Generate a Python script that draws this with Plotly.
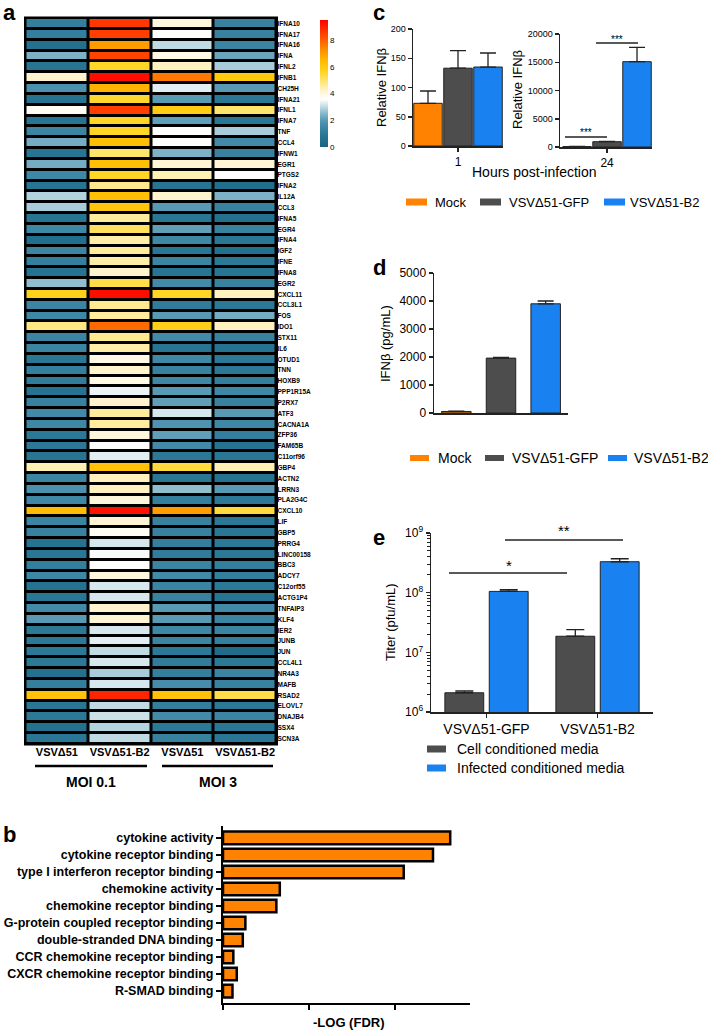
import plotly.graph_objects as go

W, H = 708, 1030


def fx(p):
    return p / W


def fy(p):
    return 1 - p / H


FONT = "Liberation Sans, Arial, sans-serif"
AX = "#222222"

# ---------------- panel a: heatmap data ----------------
genes = ["IFNA10", "IFNA17", "IFNA16", "IFNA", "IFNL2", "IFNB1", "CH25H", "IFNA21", "IFNL1", "IFNA7",
         "TNF", "CCL4", "IFNW1", "EGR1", "PTGS2", "IFNA2", "IL12A", "CCL3", "IFNA5", "EGR4",
         "IFNA4", "IGF2", "IFNE", "IFNA8", "EGR2", "CXCL11", "CCL3L1", "FOS", "IDO1", "STX11",
         "IL6", "OTUD1", "TNN", "HOXB9", "PPP1R15A", "P2RX7", "ATF3", "CACNA1A", "ZFP36", "FAM65B",
         "C11orf96", "GBP4", "ACTN2", "LRRN3", "PLA2G4C", "CXCL10", "LIF", "GBP5", "PRRG4", "LINC00158",
         "BBC3", "ADCY7", "C12orf55", "ACTG1P4", "TNFAIP3", "KLF4", "IER2", "JUNB", "JUN", "CCL4L1",
         "NR4A3", "MAFB", "RSAD2", "ELOVL7", "DNAJB4", "SSX4", "SCN3A"]
vsv_moi01 = [1.2, 1.2, 0.6, 2.4, 0.8, 4.2, 1.8, 0.7, 3.7, 0.8,
             1.4, 2.3, 0.8, 2.3, 1.5, 0.8, 2.9, 2.8, 0.8, 1.5,
             0.5, 1.4, 1.2, 0.7, 2.6, 5.7, 1.4, 1.5, 4.8, 1.4,
             1.4, 0.9, 1.2, 1.1, 0.7, 1.3, 1.6, 1.5, 1.0, 1.0,
             0.8, 4.4, 1.4, 1.8, 1.5, 6.4, 1.4, 1.3, 0.7, 0.9,
             1.2, 1.5, 0.7, 0.9, 1.6, 2.0, 1.0, 1.0, 1.0, 1.0,
             0.6, 1.2, 6.2, 0.9, 1.0, 0.6, 0.9]
b2_moi01 = [8.6, 8.5, 7.0, 8.4, 5.6, 9.3, 6.6, 5.5, 8.5, 5.6,
            5.6, 6.3, 5.0, 6.3, 5.6, 4.7, 6.3, 6.1, 4.6, 5.1,
            4.5, 4.6, 4.5, 4.2, 5.3, 9.3, 4.7, 4.6, 7.8, 4.7,
            4.5, 3.9, 4.2, 3.9, 3.4, 4.2, 4.6, 4.6, 4.0, 3.6,
            3.3, 6.2, 4.3, 4.3, 4.0, 9.2, 4.1, 3.7, 3.2, 3.5,
            3.6, 4.0, 3.2, 3.2, 4.2, 4.1, 3.2, 3.3, 3.0, 3.2,
            2.8, 3.2, 8.9, 3.0, 3.1, 2.9, 3.0]
vsv_moi3 = [4.0, 3.6, 3.0, 3.9, 4.3, 7.6, 3.3, 2.0, 5.9, 2.1,
            3.6, 3.6, 2.4, 4.1, 4.4, 0.8, 4.2, 2.0, 0.9, 2.1,
            1.5, 0.9, 1.4, 0.8, 1.6, 5.6, 1.1, 2.0, 5.8, 1.6,
            0.8, 1.5, 1.3, 1.5, 2.0, 2.1, 3.2, 1.9, 2.1, 1.6,
            1.0, 5.4, 0.9, 2.6, 1.2, 7.0, 1.3, 1.3, 1.2, 1.1,
            1.4, 1.6, 1.4, 1.3, 2.0, 2.0, 1.5, 1.4, 1.0, 1.1,
            1.2, 1.7, 6.2, 1.2, 1.6, 1.0, 1.3]
b2_moi3 = [1.3, 1.3, 1.4, 2.2, 2.8, 6.0, 2.0, 0.9, 5.0, 0.9,
           2.8, 1.6, 1.3, 4.1, 3.6, 0.5, 2.4, 1.3, 0.6, 1.3,
           0.9, 0.6, 1.0, 0.8, 1.3, 4.3, 1.0, 2.3, 4.3, 1.3,
           0.7, 1.0, 1.0, 1.2, 1.5, 1.3, 2.0, 1.5, 1.2, 0.7,
           0.9, 4.4, 0.7, 2.0, 1.0, 5.4, 1.0, 0.9, 1.0, 1.0,
           1.2, 1.2, 1.0, 0.8, 1.6, 1.4, 1.4, 1.2, 0.4, 1.0,
           1.4, 1.3, 5.3, 1.0, 1.4, 0.9, 0.9]
col_labels = ["VSVΔ51", "VSVΔ51-B2", "VSVΔ51", "VSVΔ51-B2"]
moi_labels = ["MOI 0.1", "MOI 3"]
cbar_ticks = [0, 2, 4, 6, 8]

# ---------------- panel b ----------------
go_terms = ["cytokine activity", "cytokine receptor binding", "type I interferon receptor binding",
            "chemokine activity", "chemokine receptor binding", "G-protein coupled receptor binding",
            "double-stranded DNA binding", "CCR chemokine receptor binding",
            "CXCR chemokine receptor binding", "R-SMAD binding"]
go_neglogfdr = [26.4, 24.4, 21.0, 6.6, 6.2, 2.6, 2.3, 1.2, 1.6, 1.1]

# ---------------- panels c, d ----------------
groups = ["Mock", "VSVΔ51-GFP", "VSVΔ51-B2"]
group_colors = ["#FF8200", "#4D4D4D", "#1A82F0"]
ifn_1h = [73, 133, 135]
ifn_1h_top = [94, 163, 159]
ifn_24h = [80, 940, 15100]
ifn_24h_top = [110, 1010, 17650]
ifn_pg = [55, 1960, 3900]
ifn_pg_top = [62, 1990, 4000]

# ---------------- panel e ----------------
viruses = ["VSVΔ51-GFP", "VSVΔ51-B2"]
media = ["Cell conditioned media", "Infected conditioned media"]
media_colors = ["#4D4D4D", "#1A82F0"]
titer_cell = [2.1e6, 1.86e7]
titer_cell_top = [2.25e6, 2.4e7]
titer_inf = [1.05e8, 3.3e8]
titer_inf_top = [1.12e8, 3.7e8]

fig = go.Figure()

# heatmap
z = [list(r) for r in zip(vsv_moi01, b2_moi01, vsv_moi3, b2_moi3)]
cs = [[0.0, "#1a6482"], [0.1, "#2a7896"], [0.2, "#4f93b0"], [0.27, "#8cbccd"],
      [0.33, "#cfe3ea"], [0.375, "#ffffff"], [0.44, "#fff4cf"], [0.52, "#ffe572"],
      [0.6, "#ffd21a"], [0.68, "#ffba00"], [0.76, "#ff9000"], [0.86, "#ff5200"],
      [1.0, "#ff0000"]]
fig.add_trace(go.Heatmap(
    z=z, x=list(range(4)), y=list(range(len(genes))), zmin=0, zmax=9.5,
    colorscale=cs, xgap=3, ygap=3, xaxis="x", yaxis="y", hoverinfo="skip",
    colorbar=dict(x=fx(320), xanchor="left", y=fy(20), yanchor="top",
                  len=127, lenmode="pixels", thickness=8, outlinewidth=0,
                  tickvals=cbar_ticks, ticks="", tickfont=dict(size=8, family=FONT, color="black"),
                  xpad=0, ypad=0)))

# panel b
fig.add_trace(go.Bar(
    x=go_neglogfdr, y=list(range(len(go_terms))), orientation="h", width=0.74,
    marker=dict(color="#FF8200", line=dict(color="black", width=2.5)),
    xaxis="x2", yaxis="y2", showlegend=False))


def err(vals, tops):
    return dict(type="data", array=[t - v for v, t in zip(vals, tops)],
                arrayminus=[0] * len(vals), symmetric=False,
                color=AX, thickness=1.3, width=8)


# panel c left / right, panel d
for vals, tops, xa, ya in [(ifn_1h, ifn_1h_top, "x3", "y3"),
                           (ifn_24h, ifn_24h_top, "x4", "y4")]:
    fig.add_trace(go.Bar(
        x=[0, 1, 2], y=vals, width=0.95,
        marker=dict(color=group_colors, line=dict(color=AX, width=1)),
        error_y=err(vals, tops), xaxis=xa, yaxis=ya, showlegend=False))

fig.add_trace(go.Bar(
    x=[0, 1, 2], y=ifn_pg, width=0.66,
    marker=dict(color=group_colors, line=dict(color=AX, width=1)),
    error_y=err(ifn_pg, ifn_pg_top), xaxis="x5", yaxis="y5", showlegend=False))

# panel e
for vals, tops, col, off in [(titer_cell, titer_cell_top, media_colors[0], -0.375),
                             (titer_inf, titer_inf_top, media_colors[1], 0.025)]:
    fig.add_trace(go.Bar(
        x=[0, 1], y=vals, width=0.35, offset=off,
        marker=dict(color=col, line=dict(color=AX, width=1)),
        error_y=dict(type="data", array=[t - v for v, t in zip(vals, tops)],
                     arrayminus=[0, 0], symmetric=False, color=AX, thickness=1.3, width=9),
        xaxis="x6", yaxis="y6", showlegend=False))

common = dict(showgrid=False, zeroline=False, automargin=False, fixedrange=True)
lineax = dict(showline=True, linecolor=AX, linewidth=1.5, ticks="outside", ticklen=4,
              tickcolor=AX, tickwidth=1.5)
blackax = {**lineax, "linewidth": 2, "ticklen": 5, "linecolor": "black", "tickcolor": "black"}

layout = dict(
    width=W, height=H, autosize=False, margin=dict(l=0, r=0, t=0, b=0),
    paper_bgcolor="white", plot_bgcolor="rgba(0,0,0,0)", barmode="overlay",
    font=dict(family=FONT, color="black"), showlegend=False,
    xaxis=dict(domain=[fx(25.5), fx(276.5)], range=[-0.5, 3.5], anchor="y",
               tickvals=list(range(4)), ticktext=col_labels, ticks="",
               tickfont=dict(size=11, weight="bold", family=FONT), **common),
    yaxis=dict(domain=[fy(744), fy(18)], range=[len(genes) - 0.5, -0.5], anchor="x", side="right",
               tickvals=list(range(len(genes))), ticktext=genes, ticks="",
               tickfont=dict(size=6.5, weight="bold", family=FONT), **common),
    xaxis2=dict(domain=[fx(223), fx(470)], range=[0, 28.7], anchor="y2",
                tickvals=[0, 10, 20], showticklabels=False, **common, **blackax),
    yaxis2=dict(domain=[fy(1003), fy(826)], range=[9.7, -0.7], anchor="x2",
                tickvals=list(range(len(go_terms))), ticktext=go_terms,
                tickfont=dict(size=12.5, weight="bold", family=FONT), **common, **blackax),
    xaxis3=dict(domain=[fx(413), fx(503)], range=[-0.5, 2.5], anchor="y3",
                tickvals=[1], ticktext=["1"], tickfont=dict(size=12), **common, **lineax),
    yaxis3=dict(domain=[fy(146), fy(29)], range=[0, 200], anchor="x3", dtick=50,
                tickfont=dict(size=9), **common, **lineax),
    xaxis4=dict(domain=[fx(560), fx(652)], range=[-0.57, 2.5], anchor="y4",
                tickvals=[1], ticktext=["24"], tickfont=dict(size=12), **common, **lineax),
    yaxis4=dict(domain=[fy(147), fy(34)], range=[0, 20000], anchor="x4", dtick=5000,
                tickformat="d", tickfont=dict(size=9), **common, **lineax),
    xaxis5=dict(domain=[fx(434), fx(568)], range=[-0.5, 2.5], anchor="y5",
                showticklabels=False, **common, **{**lineax, "ticks": ""}),
    yaxis5=dict(domain=[fy(413), fy(273)], range=[0, 5000], anchor="x5", dtick=1000,
                tickformat="d", tickfont=dict(size=12), **common, **lineax),
    xaxis6=dict(domain=[fx(431), fx(653)], range=[-0.5, 1.5], anchor="y6",
                tickvals=[0, 1], ticktext=viruses, tickfont=dict(size=14), **common, **lineax),
    yaxis6=dict(domain=[fy(712), fy(533)], type="log", range=[6, 9], anchor="x6",
                tickvals=[1e6, 1e7, 1e8, 1e9],
                ticktext=["10<sup>6</sup>", "10<sup>7</sup>", "10<sup>8</sup>", "10<sup>9</sup>"],
                tickfont=dict(size=12),
                minor=dict(tickvals=[k * 10 ** d for d in (6, 7, 8) for k in range(2, 10)],
                           ticks="outside", ticklen=2.5, tickcolor=AX, tickwidth=1),
                **common, **lineax),
)

shapes = []
annotations = []


def rect(x0, y0, x1, y1, color, layer="above"):
    shapes.append(dict(type="rect", xref="paper", yref="paper", x0=fx(x0), x1=fx(x1),
                       y0=fy(y1), y1=fy(y0), fillcolor=color, layer=layer,
                       line=dict(width=0)))


def hline(x0, x1, y, width=1.3, color=AX):
    shapes.append(dict(type="line", xref="paper", yref="paper", x0=fx(x0), x1=fx(x1),
                       y0=fy(y), y1=fy(y), line=dict(color=color, width=width)))


def text(x, y, s, size=13, xanchor="center", bold=False, angle=0):
    annotations.append(dict(x=fx(x), y=fy(y), xref="paper", yref="paper", text=s, showarrow=False,
                            xanchor=xanchor, yanchor="middle", textangle=angle,
                            font=dict(size=size, family=FONT, color="black",
                                      weight="bold" if bold else "normal")))


# heatmap black frame / background
rect(24, 16.5, 278, 745.5, "black", layer="below")

# MOI underlines and labels
hline(35, 147, 766, width=2.5, color="black")
hline(162, 273, 766, width=2.5, color="black")
text(91, 782, moi_labels[0], size=14, bold=True)
text(218, 782, moi_labels[1], size=14, bold=True)

# panel letters
text(1, 12.5, "a", size=22, xanchor="left", bold=True)
text(1, 834, "b", size=22, xanchor="left", bold=True)
text(371, 12.5, "c", size=22, xanchor="left", bold=True)
text(371, 267, "d", size=22, xanchor="left", bold=True)
text(371, 537, "e", size=22, xanchor="left", bold=True)

# axis titles
text(382, 88, "Relative IFNβ", size=13, angle=-90)
text(518, 90, "Relative IFNβ", size=13, angle=-90)
text(534, 172, "Hours post-infection", size=14)
text(385, 343, "IFNβ (pg/mL)", size=13, angle=-90)
text(390, 622, "Titer (pfu/mL)", size=13, angle=-90)
text(348, 1022, "-LOG (FDR)", size=13, bold=True)

# significance marks
hline(596, 638, 43)
text(617, 40, "***", size=10)
hline(565, 607, 137)
text(586, 132, "***", size=10)
hline(449, 567, 573)
text(509, 565, "*", size=15)
hline(505, 623, 540)
text(564, 530, "**", size=15)

# legends
for (sx, tx), name, col in zip([(406, 433), (480, 507), (604, 628)], groups, group_colors):
    rect(sx, 198.5, sx + 21, 205.5, col)
    text(tx, 202, name, size=13, xanchor="left")
for (sx, tx), name, col in zip([(410, 436), (485, 510), (608, 632)], groups, group_colors):
    rect(sx, 455, sx + 19, 461, col)
    text(tx, 458, name, size=14, xanchor="left")
for yy, name, col in zip([749, 768], media, media_colors):
    rect(427, yy - 3.5, 446, yy + 3.5, col)
    text(455, yy, name, size=14, xanchor="left")

layout["shapes"] = shapes
layout["annotations"] = annotations
fig.update_layout(**layout)
fig.write_html("out.html", config={"displayModeBar": False, "staticPlot": True},
               post_script="document.body.style.margin='0';document.body.style.overflow='hidden';")
